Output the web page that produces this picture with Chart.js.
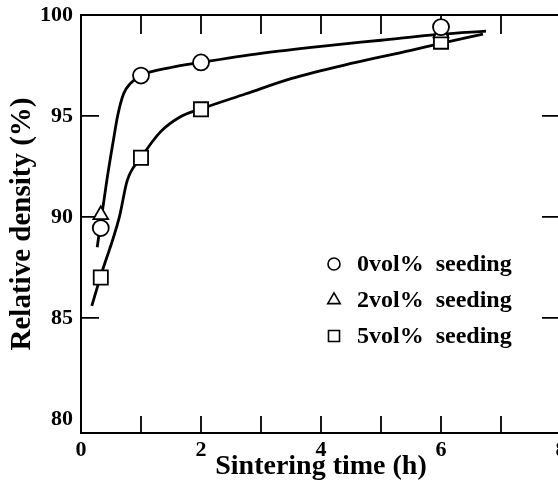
<!DOCTYPE html>
<html><head><meta charset="utf-8">
<script src="https://cdn.jsdelivr.net/npm/chart.js@4.4.0/dist/chart.umd.min.js"></script>
<style>
html,body{margin:0;padding:0;overflow:hidden;background:#fff;width:558px;height:481px}
#wrap{width:580px;height:481px;position:absolute;left:0;top:0}
</style></head><body>
<div id="wrap"><canvas id="c" width="580" height="481"></canvas></div>
<script>
// ---- data ----
const seedTimes  = [0.33, 1.0, 2.0, 6.0];
const seed0      = [89.45, 97.0, 97.65, 99.4];   // 0vol% seeding (circles)
const seed2Times = [0.33, 6.0];
const seed2      = [90.1, 99.1];                 // 2vol% seeding (triangles)
const seed5      = [87.0, 92.93, 95.33, 98.68];  // 5vol% seeding (squares)

// hand-drawn guide curves
const curveAX = [0.27, 0.43, 0.54, 0.61, 0.71, 0.82, 1.0, 1.5, 2.0, 3.0, 4.0, 5.0, 6.0, 6.75];
const curveAY = [88.5, 91.8, 93.8, 95.0, 96.1, 96.6, 97.0, 97.4, 97.65, 98.1, 98.45, 98.75, 99.05, 99.2];
const curveBX = [0.18, 0.32, 0.64, 0.77, 1.0, 1.32, 1.65, 2.0, 2.75, 3.5, 4.5, 5.5, 6.0, 6.7];
const curveBY = [85.6, 87.0, 90.0, 91.8, 92.93, 94.2, 94.95, 95.35, 96.1, 96.85, 97.6, 98.25, 98.6, 99.05];

const seriesLabels = ['0vol%  seeding', '2vol%  seeding', '5vol%  seeding'];
const xLabelTicks = [0, 2, 4, 6, 8];
const yLabelTicks = [80, 85, 90, 95, 100];
const xMinorTicks = [1, 2, 3, 4, 5, 6, 7];
const yInnerTicks = [85, 90, 95];

const FONT = "'Liberation Serif', 'Times New Roman', serif";
const pts = (xs, ys) => xs.map((x, i) => ({x: x, y: ys[i]}));

const framePlugin = {
  id: 'frame',
  beforeDatasetsDraw(chart) {
    const {ctx, chartArea: a, scales: {x, y}} = chart;
    ctx.save();
    ctx.strokeStyle = '#000';
    ctx.lineWidth = 2;
    ctx.beginPath();
    ctx.moveTo(a.left - 1, a.top); ctx.lineTo(a.right + 1, a.top);
    ctx.moveTo(a.right, a.top); ctx.lineTo(a.right, a.bottom);
    ctx.stroke();
    ctx.lineWidth = 1.8;
    ctx.beginPath();
    xMinorTicks.forEach(v => {
      const px = x.getPixelForValue(v);
      ctx.moveTo(px, a.top); ctx.lineTo(px, a.top + 19);
      ctx.moveTo(px, a.bottom); ctx.lineTo(px, a.bottom - 17);
    });
    yInnerTicks.forEach(v => {
      const py = y.getPixelForValue(v);
      ctx.moveTo(a.left, py); ctx.lineTo(a.left + 18, py);
      ctx.moveTo(a.right, py); ctx.lineTo(a.right - 19, py);
    });
    ctx.stroke();
    ctx.restore();
  }
};

const legendPlugin = {
  id: 'inlegend',
  afterDraw(chart) {
    const {ctx} = chart;
    const styles = [
      {pointStyle: 'circle', radius: 6},
      {pointStyle: 'triangle', radius: 7.2},
      {pointStyle: 'rect', radius: 7.8}
    ];
    const rows = [264, 300, 336];
    ctx.save();
    seriesLabels.forEach((lab, i) => {
      ctx.fillStyle = '#fff';
      ctx.strokeStyle = '#000';
      ctx.lineWidth = 1.6;
      Chart.helpers.drawPoint(ctx, {pointStyle: styles[i].pointStyle, rotation: 0, radius: styles[i].radius, borderWidth: 1.6}, 334, rows[i]);
      ctx.fillStyle = '#000';
      ctx.font = 'bold 24px ' + FONT;
      ctx.textAlign = 'left';
      ctx.textBaseline = 'middle';
      ctx.fillText(lab, 357, rows[i] + 1);
    });
    ctx.restore();
  }
};

const markerBase = {showLine: false, backgroundColor: '#fff', borderColor: '#000', pointBackgroundColor: '#fff', pointBorderColor: '#000', order: 0};
const curveBase = {showLine: true, pointRadius: 0, borderColor: '#000', borderWidth: 2.8, cubicInterpolationMode: 'monotone', fill: false, order: 1};

new Chart(document.getElementById('c'), {
  type: 'scatter',
  data: {
    datasets: [
      Object.assign({label: seriesLabels[0], data: pts(seedTimes, seed0), pointStyle: 'circle', pointRadius: 8, pointBorderWidth: 1.8}, markerBase),
      Object.assign({label: seriesLabels[1], data: pts(seed2Times, seed2), pointStyle: 'triangle', pointRadius: 8.5, pointBorderWidth: 1.8}, markerBase),
      Object.assign({label: seriesLabels[2], data: pts(seedTimes, seed5), pointStyle: 'rect', pointRadius: 10, pointBorderWidth: 1.8}, markerBase),
      Object.assign({label: 'curve A', data: pts(curveAX, curveAY)}, curveBase),
      Object.assign({label: 'curve B', data: pts(curveBX, curveBY)}, curveBase)
    ]
  },
  options: {
    responsive: false,
    animation: false,
    devicePixelRatio: 1,
    layout: {padding: {left: 0, top: 15, right: 19, bottom: 0}},
    plugins: {legend: {display: false}, tooltip: {enabled: false}},
    scales: {
      x: {
        type: 'linear', min: 0, max: 8,
        afterBuildTicks: s => { s.ticks = xLabelTicks.map(v => ({value: v})); },
        ticks: {color: '#000', font: {family: FONT, size: 22, weight: 'bold'}, padding: 4, maxRotation: 0, autoSkip: false},
        grid: {display: false, drawTicks: false},
        border: {display: true, color: '#000', width: 2},
        title: {display: true, text: 'Sintering time (h)', color: '#000', font: {family: FONT, size: 28, weight: 'bold', lineHeight: 1}, padding: {top: 0, bottom: 0}},
        afterFit: s => { s.height = 48; s.paddingLeft = 0; s.paddingRight = 0; }
      },
      y: {
        type: 'linear', min: 79.3, max: 100,
        afterBuildTicks: s => { s.ticks = yLabelTicks.map(v => ({value: v})); },
        ticks: {color: '#000', font: {family: FONT, size: 22, weight: 'bold'}, padding: 8},
        grid: {display: false, drawTicks: false},
        border: {display: true, color: '#000', width: 2},
        title: {display: true, text: 'Relative density (%)', color: '#000', font: {family: FONT, size: 29, weight: 'bold', lineHeight: 1}, padding: {top: 8, bottom: 0}},
        afterFit: s => { s.width = 81; s.paddingTop = 0; s.paddingBottom = 0; }
      }
    }
  },
  plugins: [framePlugin, legendPlugin]
});
</script>
</body></html>
